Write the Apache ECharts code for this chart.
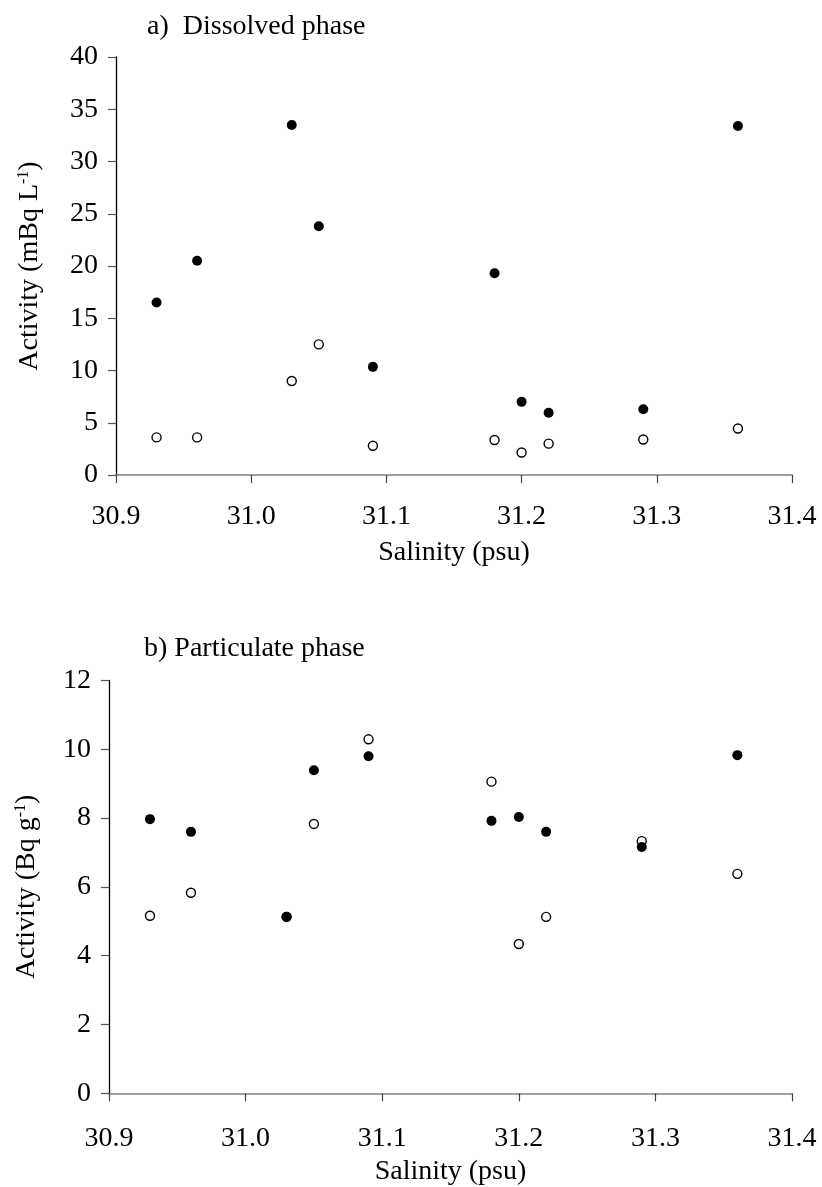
<!DOCTYPE html>
<html>
<head>
<meta charset="utf-8">
<script src="https://cdn.jsdelivr.net/npm/echarts@6/dist/echarts.min.js"></script>
<style>
  html, body { margin: 0; padding: 0; background: #fff; }
  #main { width: 822px; height: 1187px; }
</style>
</head>
<body>
<div id="main"></div>
<script>
// salinity of each sampling station (psu)
var salinity = [30.93, 30.96, 31.03, 31.05, 31.09, 31.18, 31.20, 31.22, 31.29, 31.36];

// a) dissolved phase, mBq/L
var dissolvedFilled = [16.5, 20.5, 33.5, 23.8, 10.35, 19.3, 7.0, 5.95, 6.3, 33.4];
var dissolvedOpen = [3.6, 3.6, 9.0, 12.5, 2.8, 3.35, 2.15, 3.0, 3.4, 4.45];

// b) particulate phase, Bq/g
var particulateFilled = [7.97, 7.6, 5.13, 9.39, 9.8, 7.92, 8.03, 7.6, 7.16, 9.83];
var particulateOpen = [5.16, 5.83, 5.13, 7.83, 10.29, 9.06, 4.34, 5.13, 7.33, 6.38];

var xTicks = [30.9, 31.0, 31.1, 31.2, 31.3, 31.4];
var titles = ['a)  Dissolved phase', 'b) Particulate phase'];

var FONT = '"Liberation Serif", "Times New Roman", serif';

function pairs(ys) {
  return salinity.map(function (x, i) { return [x, ys[i]]; });
}

function xAxisFor(idx, labelMargin, nameGap) {
  return {
    gridIndex: idx,
    type: 'value',
    min: xTicks[0],
    max: xTicks[xTicks.length - 1],
    interval: 0.1,
    name: 'Salinity (psu)',
    nameLocation: 'middle',
    nameGap: nameGap,
    nameTextStyle: { fontFamily: FONT, fontSize: 28, color: '#000' },
    axisLine: { show: true, lineStyle: { color: '#808080', width: 1.5 } },
    axisTick: { show: true, length: 8, lineStyle: { color: '#444', width: 1.2 } },
    axisLabel: {
      margin: labelMargin,
      fontFamily: FONT, fontSize: 28, color: '#000',
      formatter: function (v) { return v.toFixed(1); }
    },
    splitLine: { show: false }
  };
}

function yAxisFor(idx, max, step, name, nameGap) {
  return {
    gridIndex: idx,
    type: 'value',
    min: 0,
    max: max,
    interval: step,
    name: name,
    nameLocation: 'middle',
    nameGap: nameGap,
    nameTextStyle: {
      fontFamily: FONT, fontSize: 28, color: '#000',
      rich: {
        sup: { fontFamily: FONT, fontSize: 16, color: '#000', verticalAlign: 'top', padding: [0, 0, 12, 0] }
      }
    },
    axisLine: { show: true, onZero: false, lineStyle: { color: '#000', width: 1.3 } },
    axisTick: { show: true, length: 8, lineStyle: { color: '#555', width: 1.2 } },
    axisLabel: { margin: 18, fontFamily: FONT, fontSize: 28, color: '#000' },
    splitLine: { show: false }
  };
}

var openStyle = { color: '#fff', borderColor: '#000', borderWidth: 1.4, opacity: 1 };
var filledStyle = { color: '#000', opacity: 1 };

var chart = echarts.init(document.getElementById('main'));
chart.setOption({
  animation: false,
  backgroundColor: '#fff',
  title: [
    { text: titles[0], left: 142, top: 8, textStyle: { fontFamily: FONT, fontSize: 28, fontWeight: 'normal', color: '#000' } },
    { text: titles[1], left: 139, top: 630, textStyle: { fontFamily: FONT, fontSize: 28, fontWeight: 'normal', color: '#000' } }
  ],
  grid: [
    { left: 116, right: 30, top: 57, height: 418 },
    { left: 109, right: 30, top: 680.5, height: 412.8 }
  ],
  xAxis: [xAxisFor(0, 28, 64), xAxisFor(1, 31, 64)],
  yAxis: [
    yAxisFor(0, 40, 5, 'Activity (mBq L{sup|-1})', 72),
    yAxisFor(1, 12, 2, 'Activity (Bq g{sup|-1})', 68)
  ],
  series: [
    { type: 'scatter', xAxisIndex: 0, yAxisIndex: 0, symbolSize: 9, itemStyle: openStyle, data: pairs(dissolvedOpen) },
    { type: 'scatter', xAxisIndex: 0, yAxisIndex: 0, symbolSize: 10, itemStyle: filledStyle, data: pairs(dissolvedFilled) },
    { type: 'scatter', xAxisIndex: 1, yAxisIndex: 1, symbolSize: 9, itemStyle: openStyle, data: pairs(particulateOpen) },
    { type: 'scatter', xAxisIndex: 1, yAxisIndex: 1, symbolSize: 10, itemStyle: filledStyle, data: pairs(particulateFilled) }
  ]
});
</script>
</body>
</html>
